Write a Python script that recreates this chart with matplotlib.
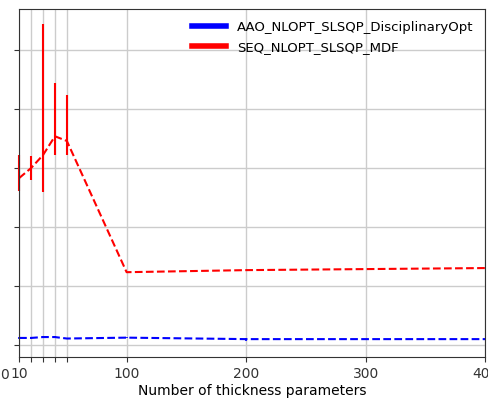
import matplotlib

matplotlib.use("Agg")
import matplotlib.pyplot as plt
from matplotlib.lines import Line2D

# Number of thickness parameters
sizes = [10, 20, 30, 40, 50, 100, 200, 400]
sizes_aao = [10, 20, 30, 40, 50, 100, 200, 300, 400]

# SEQ_NLOPT_SLSQP_MDF: mean and asymmetric spread
mdf_mean = [56.6, 60.0, 64.4, 70.8, 69.2, 24.7, 25.4, 26.1]
mdf_low = [4.4, 4.1, 12.5, 6.4, 4.8, 0.0, 0.0, 0.0]
mdf_high = [7.8, 4.1, 44.4, 18.0, 15.5, 0.0, 0.0, 0.0]

# AAO_NLOPT_SLSQP_DisciplinaryOpt
aao_mean = [2.4, 2.4, 2.7, 2.7, 2.2, 2.5, 2.0, 2.0, 2.0]
aao_err = [0.2, 0.2, 0.4, 0.2, 0.2, 0.2, 0.5, 0.2, 0.2]

x_ticks = [10, 20, 30, 40, 50, 100, 200, 300, 400]
x_labels = ["10", "", "", "", "", "100", "200", "300", "400"]
y_ticks = [0, 20, 40, 60, 80, 100]

fig = plt.figure(figsize=(4.89, 3.99), dpi=100)
ax = fig.add_axes([0.039, 0.105, 0.953, 0.872])

ax.errorbar(sizes_aao, aao_mean, yerr=aao_err, color="blue", ls="--", lw=1.5,
            elinewidth=1.2, clip_on=False)
ax.errorbar(sizes, mdf_mean, yerr=[mdf_low, mdf_high], color="red", ls="--", lw=1.5,
            elinewidth=1.5, clip_on=False)

ax.set_xlim(10, 400)
ax.set_ylim(-4.1, 113.9)
ax.set_xticks(x_ticks)
ax.set_xticklabels(x_labels)
ax.set_yticks(y_ticks)
ax.set_yticklabels([""] * len(y_ticks))
ax.grid(True, color="#cccccc", lw=1)
ax.set_xlabel("Number of thickness parameters", fontsize=10, labelpad=2)
ax.tick_params(labelsize=10, colors="#333333", labelcolor="#333333")
for spine in ax.spines.values():
    spine.set_color("#333333")

handles = [Line2D([], [], color="blue", lw=4), Line2D([], [], color="red", lw=4)]
ax.legend(handles, ["AAO_NLOPT_SLSQP_DisciplinaryOpt", "SEQ_NLOPT_SLSQP_MDF"],
          loc="upper right", frameon=False, fontsize=9.5, handlelength=2.6)

fig.text(0.0, 0.06, "0", fontsize=10, color="#333333", va="center")

fig.savefig("out.png", dpi=100)
